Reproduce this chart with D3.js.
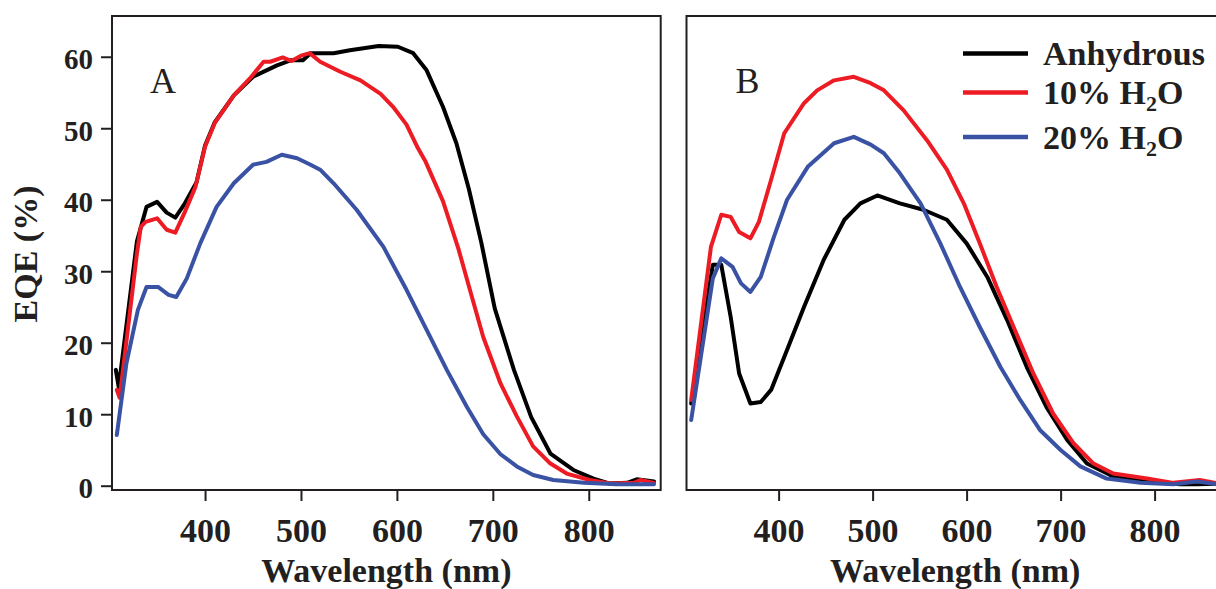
<!DOCTYPE html>
<html>
<head>
<meta charset="utf-8">
<script src="https://cdn.jsdelivr.net/npm/d3@7"></script>
<style>
  body { margin: 0; background: #ffffff; }
  svg { display: block; }
</style>
</head>
<body>
<svg width="1216" height="589"></svg>
<script>
// [wavelength nm, EQE %]

// panel A
var anhydrousA = [[307,16.2],[310,13.8],[329,34.2],[339,39.0],[350,39.7],[360,38.2],[369,37.5],[379,39.5],[391,42.4],[400,47.6],[410,50.8],[430,54.6],[450,57.2],[475,58.8],[489,59.5],[502,59.5],[510,60.5],[534,60.5],[551,60.9],[581,61.5],[601,61.4],[617,60.5],[631,58.1],[648,53.0],[662,47.9],[675,41.5],[688,34.0],[702,24.8],[722,16.2],[740,9.6],[760,4.5],[784,2.2],[805,1.0],[822,0.3],[840,0.4],[850,0.9],[868,0.6]];
var water10A = [[308,13.4],[311,12.3],[329,32.5],[333,36.2],[338,36.9],[350,37.4],[360,35.8],[369,35.4],[379,38.3],[390,41.8],[400,47.4],[410,50.7],[430,54.6],[447,57.0],[461,59.3],[468,59.3],[481,59.9],[490,59.4],[501,60.2],[509,60.5],[520,59.3],[541,57.9],[562,56.7],[583,54.8],[596,53.0],[610,50.5],[622,47.2],[630,45.3],[648,39.8],[664,33.2],[678,26.5],[690,20.8],[708,14.3],[725,9.7],[742,5.5],[760,3.1],[777,1.7],[801,0.8],[822,0.3],[847,0.4],[854,0.8],[868,0.4]];
var water20A = [[308,7.1],[318,17.1],[330,24.6],[339,27.8],[351,27.8],[362,26.7],[370,26.4],[381,29.0],[395,33.9],[412,39.0],[430,42.3],[450,44.9],[464,45.3],[480,46.3],[496,45.8],[510,44.9],[520,44.2],[534,42.3],[558,38.6],[586,33.4],[610,27.4],[631,21.8],[652,16.2],[673,11.0],[690,7.2],[708,4.4],[725,2.7],[742,1.5],[763,0.8],[795,0.4],[829,0.2],[868,0.2]];

// panel B
var anhydrousB = [[307,11.5],[330,30.9],[339,30.9],[349,23.6],[358,15.7],[370,11.5],[381,11.7],[392,13.4],[406,18.0],[427,25.0],[448,31.6],[470,37.2],[487,39.5],[505,40.6],[529,39.5],[554,38.6],[579,37.2],[600,33.9],[622,29.2],[643,23.2],[664,16.6],[685,11.0],[707,6.4],[728,3.1],[756,1.3],[792,0.6],[827,0.2],[845,0.2],[868,0.3]];
var water10B = [[307,12.0],[328,33.4],[339,37.9],[349,37.6],[358,35.5],[370,34.6],[379,36.9],[392,42.8],[406,49.3],[427,53.5],[441,55.3],[459,56.7],[480,57.2],[498,56.3],[512,55.3],[533,52.5],[558,48.3],[579,44.2],[597,39.5],[614,33.9],[632,27.8],[650,22.2],[671,15.7],[692,10.1],[714,5.9],[735,3.1],[756,1.7],[792,1.0],[820,0.4],[848,0.8],[868,0.3]];
var water20B = [[307,9.2],[330,29.0],[339,31.8],[351,30.6],[360,28.3],[370,27.1],[381,29.2],[395,34.8],[409,40.0],[431,44.6],[459,47.9],[480,48.8],[498,47.7],[512,46.5],[529,43.7],[551,39.5],[572,33.9],[593,27.8],[614,22.2],[636,16.6],[657,12.0],[678,7.8],[700,5.0],[721,2.7],[749,1.0],[785,0.4],[820,0.2],[845,0.6],[868,0.2]];

var seriesNames = ['Anhydrous', '10% H2O', '20% H2O'];
var seriesColors = ['#000000', '#ed1c24', '#3a52a4'];
var xTicks = [400, 500, 600, 700, 800];
var yTicks = [0, 10, 20, 30, 40, 50, 60];

var svg = d3.select('svg');
var serif = '"Liberation Serif", "Times New Roman", serif';
var ink = '#231f20';

// both panels share the EQE scale
var y = d3.scaleLinear().domain([-0.6, 65.7]).range([490, 16]);

var panels = [
  { id: 'A', domain: [303, 875], range: [112, 660.7], series: [anhydrousA, water10A, water20A], yAxis: true },
  { id: 'B', domain: [302, 880], range: [686.5, 1229.8], series: [anhydrousB, water10B, water20B], yAxis: false }
];

panels.forEach(function (p) {
  var x = d3.scaleLinear().domain(p.domain).range(p.range);
  var g = svg.append('g');

  // clip the curves to the frame
  g.append('clipPath').attr('id', 'clip' + p.id)
    .append('rect')
    .attr('x', p.range[0]).attr('y', 16)
    .attr('width', p.range[1] - p.range[0]).attr('height', 474);

  var line = d3.line()
    .x(function (d) { return x(d[0]); })
    .y(function (d) { return y(d[1]); });

  g.append('g').attr('clip-path', 'url(#clip' + p.id + ')')
    .selectAll('path')
    .data(p.series)
    .enter()
    .append('path')
    .attr('d', line)
    .attr('fill', 'none')
    .attr('stroke', function (d, i) { return seriesColors[i]; })
    .attr('stroke-width', 4)
    .attr('stroke-linejoin', 'round')
    .attr('stroke-linecap', 'round');

  // frame
  g.append('rect')
    .attr('x', p.range[0]).attr('y', 16)
    .attr('width', p.range[1] - p.range[0]).attr('height', 474)
    .attr('fill', 'none')
    .attr('stroke', ink)
    .attr('stroke-width', 2);

  // bottom axis
  var xa = g.append('g')
    .attr('transform', 'translate(0,490)')
    .call(d3.axisBottom(x).tickValues(xTicks).tickSize(11).tickSizeOuter(0));
  xa.select('.domain').remove();
  xa.selectAll('line').attr('stroke', ink).attr('stroke-width', 2);
  xa.selectAll('text')
    .attr('y', 52).attr('dy', 0)
    .attr('fill', ink)
    .style('font-family', serif)
    .style('font-weight', 'bold')
    .style('font-size', '34px');

  g.append('text')
    .attr('x', (p.range[0] + Math.min(p.range[1], 1224)) / 2)
    .attr('y', 582)
    .attr('text-anchor', 'middle')
    .attr('fill', ink)
    .style('font-family', serif)
    .style('font-weight', 'bold')
    .style('font-size', '34px')
    .text('Wavelength (nm)');

  // panel letter
  g.append('text')
    .attr('x', p.range[0] + (p.id === 'A' ? 38 : 49))
    .attr('y', 93)
    .attr('fill', ink)
    .style('font-family', serif)
    .style('font-size', '36px')
    .text(p.id);

  if (p.yAxis) {
    var ya = g.append('g')
      .attr('transform', 'translate(' + p.range[0] + ',0)')
      .call(d3.axisLeft(y).tickValues(yTicks).tickSize(11).tickSizeOuter(0).tickPadding(8));
    ya.select('.domain').remove();
    ya.selectAll('line').attr('stroke', ink).attr('stroke-width', 2);
    ya.selectAll('text')
      .attr('dy', '0.41em')
      .attr('fill', ink)
      .style('font-family', serif)
      .style('font-weight', 'bold')
      .style('font-size', '29px');

    g.append('text')
      .attr('transform', 'translate(37,254) rotate(-90)')
      .attr('text-anchor', 'middle')
      .attr('fill', ink)
      .style('font-family', serif)
      .style('font-weight', 'bold')
      .style('font-size', '34px')
      .text('EQE (%)');
  }
});

// legend (inside panel B)
var legendY = [53.5, 92.5, 137];
var legend = svg.append('g');
seriesNames.forEach(function (name, i) {
  legend.append('line')
    .attr('x1', 963).attr('x2', 1028)
    .attr('y1', legendY[i]).attr('y2', legendY[i])
    .attr('stroke', seriesColors[i])
    .attr('stroke-width', 4.5);

  var t = legend.append('text')
    .attr('x', 1043)
    .attr('y', legendY[i] + 11.5)
    .attr('fill', ink)
    .style('font-family', serif)
    .style('font-weight', 'bold')
    .style('font-size', '34px');

  // write H2O with a real subscript
  var k = name.indexOf('H2O');
  if (k < 0) {
    t.text(name);
  } else {
    t.append('tspan').text(name.slice(0, k + 1));
    t.append('tspan').attr('dy', 7).style('font-size', '22px').text('2');
    t.append('tspan').attr('dy', -7).text('O');
  }
});
</script>
</body>
</html>
